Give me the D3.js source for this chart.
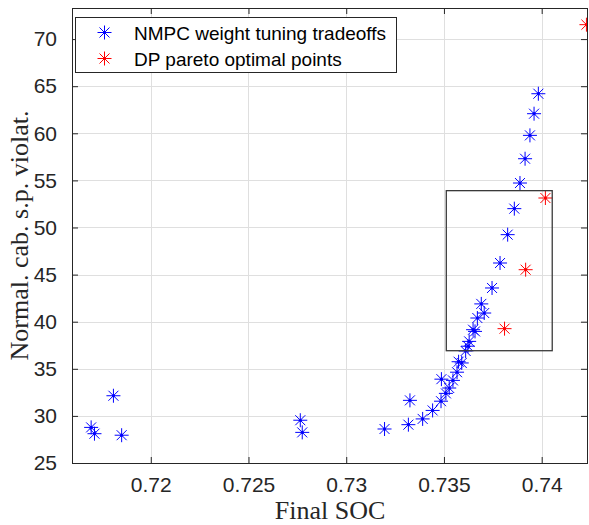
<!DOCTYPE html>
<html>
<head>
<meta charset="utf-8">
<script src="https://cdn.jsdelivr.net/npm/d3@7"></script>
<style>
  body { margin: 0; background: white; }
  .tick-label { font-family: "Liberation Sans", Arial, sans-serif; font-size: 21px; fill: #262626; }
  .axis-title { font-family: "Liberation Serif", "Times New Roman", serif; font-size: 26px; fill: #262626; }
  .legend-text { font-family: "Liberation Sans", Arial, sans-serif; font-size: 19px; fill: #000; }
</style>
</head>
<body>
<script>
// NMPC weight tuning runs (final SOC, normalised cabin set-point violation)
var socNmpc = [0.71695, 0.71712, 0.71809, 0.71851, 0.72765, 0.72775, 0.73196, 0.73318,
               0.73326, 0.73391, 0.73442, 0.73485, 0.73487, 0.73510, 0.73527, 0.73546,
               0.73567, 0.73575, 0.73591, 0.73611, 0.73623, 0.73629, 0.73649, 0.73659,
               0.73671, 0.73691, 0.73706, 0.73746, 0.73787, 0.73826, 0.73860, 0.73889,
               0.73915, 0.73940, 0.73961, 0.73983];
var violNmpc = [28.78, 28.11, 32.14, 27.95, 29.54, 28.25, 28.61, 29.07,
                31.65, 29.68, 30.58, 31.56, 33.90, 32.39, 32.96, 33.77,
                34.64, 35.75, 35.62, 36.89, 37.40, 37.91, 39.15, 38.97,
                40.39, 41.89, 40.92, 43.58, 46.23, 49.24, 52.00, 54.72,
                57.30, 59.78, 62.08, 64.20];

// DP pareto optimal points
var socDp = [0.73810, 0.73918, 0.74019, 0.74229];
var violDp = [39.26, 45.52, 53.13, 71.53];

// zoom box drawn on the plot [soc0, soc1, viol0, viol1]
var boxBounds = [0.73512, 0.74054, 36.92, 53.91];

var xTicks = [0.72, 0.725, 0.73, 0.735, 0.74];
var xTickLabels = ["0.72", "0.725", "0.73", "0.735", "0.74"];
var yTicks = [25, 30, 35, 40, 45, 50, 55, 60, 65, 70];
var legendLabels = ["NMPC weight tuning tradeoffs", "DP pareto optimal points"];
var seriesColors = ["#0000ff", "#ff0000"];

var screen = {width: 589, height: 525};
var margin = {left: 72, top: 8, right: 1, bottom: 62};
var plotW = screen.width - margin.left - margin.right;
var plotH = screen.height - margin.top - margin.bottom;

var svg = d3.select("body")
            .append("svg")
            .attr("width", screen.width)
            .attr("height", screen.height);

var x = d3.scaleLinear()
          .domain([0.71597, 0.74237])
          .range([0, plotW]);

var y = d3.scaleLinear()
          .domain([25, 73.3])
          .range([plotH, 0]);

var plot = svg.append("g")
              .attr("transform", "translate(" + margin.left + "," + margin.top + ")");

svg.append("defs")
   .append("clipPath")
   .attr("id", "plotClip")
   .append("rect")
   .attr("x", 0)
   .attr("y", 0)
   .attr("width", plotW)
   .attr("height", plotH);

//grid
plot.append("g")
    .selectAll("line")
    .data(xTicks)
    .enter()
    .append("line")
    .attr("x1", function(d) {return Math.round(x(d)) + 0.5;})
    .attr("x2", function(d) {return Math.round(x(d)) + 0.5;})
    .attr("y1", 0)
    .attr("y2", plotH)
    .attr("stroke", "#dfdfdf")
    .attr("stroke-width", 1);

plot.append("g")
    .selectAll("line")
    .data(yTicks)
    .enter()
    .append("line")
    .attr("x1", 0)
    .attr("x2", plotW)
    .attr("y1", function(d) {return Math.round(y(d)) + 0.5;})
    .attr("y2", function(d) {return Math.round(y(d)) + 0.5;})
    .attr("stroke", "#dfdfdf")
    .attr("stroke-width", 1);

// asterisk marker = plus + cross
var asterisk = function(g, color) {
  var r = 7, rd = 5;
  g.append("line").attr("x1", -r).attr("x2", r).attr("y1", 0).attr("y2", 0);
  g.append("line").attr("x1", 0).attr("x2", 0).attr("y1", -r).attr("y2", r);
  g.append("line").attr("x1", -rd).attr("x2", rd).attr("y1", -rd).attr("y2", rd);
  g.append("line").attr("x1", -rd).attr("x2", rd).attr("y1", rd).attr("y2", -rd);
  g.selectAll("line")
   .attr("stroke", color)
   .attr("stroke-width", 1);
  g.append("circle")
   .attr("r", 1.6)
   .attr("fill", color);
}

var marks = plot.append("g")
                .attr("clip-path", "url(#plotClip)");

var nmpcData = socNmpc.map(function(d, i) {return [d, violNmpc[i]];});
var dpData = socDp.map(function(d, i) {return [d, violDp[i]];});

marks.selectAll("g.nmpc")
     .data(nmpcData)
     .enter()
     .append("g")
     .attr("class", "nmpc")
     .attr("transform", function(d) {return "translate(" + x(d[0]) + "," + y(d[1]) + ")";})
     .each(function() {asterisk(d3.select(this), seriesColors[0]);});

marks.selectAll("g.dp")
     .data(dpData)
     .enter()
     .append("g")
     .attr("class", "dp")
     .attr("transform", function(d) {return "translate(" + x(d[0]) + "," + y(d[1]) + ")";})
     .each(function() {asterisk(d3.select(this), seriesColors[1]);});

//zoom box
plot.append("rect")
    .attr("x", x(boxBounds[0]))
    .attr("y", y(boxBounds[3]))
    .attr("width", x(boxBounds[1]) - x(boxBounds[0]))
    .attr("height", y(boxBounds[2]) - y(boxBounds[3]))
    .attr("fill", "none")
    .attr("stroke", "#3a3a3a")
    .attr("stroke-width", 1.3);

//axes box
plot.append("rect")
    .attr("x", 0.5)
    .attr("y", 0.5)
    .attr("width", plotW - 1)
    .attr("height", plotH)
    .attr("fill", "none")
    .attr("stroke", "#262626")
    .attr("stroke-width", 1);

var xAxis = d3.axisBottom(x)
              .tickValues(xTicks)
              .tickFormat(function(d, i) {return xTickLabels[i];})
              .tickSizeInner(-6)
              .tickSizeOuter(0)
              .tickPadding(14);

var xAxisTop = d3.axisTop(x)
                 .tickValues(xTicks)
                 .tickFormat("")
                 .tickSizeInner(-6)
                 .tickSizeOuter(0);

var yAxis = d3.axisLeft(y)
              .tickValues(yTicks)
              .tickSizeInner(-6)
              .tickSizeOuter(0)
              .tickPadding(15);

var yAxisRight = d3.axisRight(y)
                   .tickValues(yTicks)
                   .tickFormat("")
                   .tickSizeInner(-6)
                   .tickSizeOuter(0);

var styleAxis = function(g) {
  g.select(".domain").remove();
  g.selectAll(".tick line").attr("stroke", "#262626");
  g.selectAll(".tick text")
   .attr("class", "tick-label")
   .attr("font-family", null)
   .attr("font-size", null)
   .attr("fill", null);
}

plot.append("g")
    .attr("transform", "translate(0," + plotH + ")")
    .call(xAxis)
    .call(styleAxis);

plot.append("g")
    .call(xAxisTop)
    .call(styleAxis);

plot.append("g")
    .call(yAxis)
    .call(styleAxis);

plot.append("g")
    .attr("transform", "translate(" + (plotW - 1) + ",0)")
    .call(yAxisRight)
    .call(styleAxis);

//axis titles
svg.append("text")
   .attr("class", "axis-title")
   .attr("x", margin.left + plotW / 2)
   .attr("y", 519)
   .attr("text-anchor", "middle")
   .text("Final SOC");

svg.append("text")
   .attr("class", "axis-title")
   .attr("transform", "translate(28," + (margin.top + plotH / 2) + ") rotate(-90)")
   .attr("text-anchor", "middle")
   .text("Normal. cab. s.p. violat.");

//legend
var legend = svg.append("g")
                .attr("transform", "translate(75,17)");

legend.append("rect")
      .attr("x", 0.5)
      .attr("y", 0.5)
      .attr("width", 321)
      .attr("height", 55)
      .attr("fill", "white")
      .attr("stroke", "#262626")
      .attr("stroke-width", 1);

var entries = legend.selectAll("g.entry")
                    .data(legendLabels)
                    .enter()
                    .append("g")
                    .attr("class", "entry")
                    .attr("transform", function(d, i) {return "translate(0," + (15.5 + i * 26) + ")";});

entries.append("g")
       .attr("transform", "translate(29.5,0)")
       .each(function(d, i) {asterisk(d3.select(this), seriesColors[i]);});

entries.append("text")
       .attr("class", "legend-text")
       .attr("x", 59)
       .attr("y", 7)
       .text(function(d) {return d;});
</script>
</body>
</html>
